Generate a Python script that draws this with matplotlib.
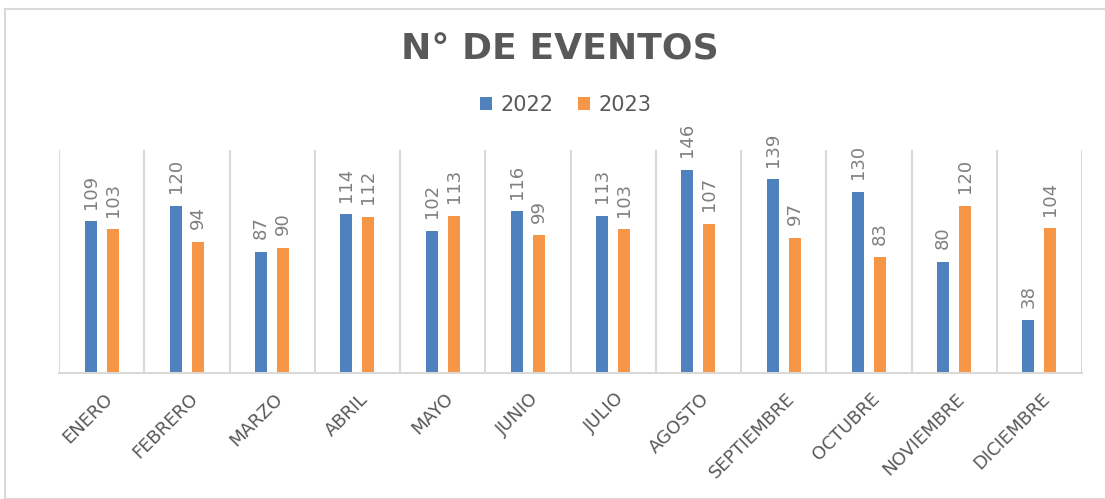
import matplotlib.pyplot as plt
import numpy as np
from matplotlib.patches import Rectangle

meses = ['ENERO', 'FEBRERO', 'MARZO', 'ABRIL', 'MAYO', 'JUNIO', 'JULIO',
         'AGOSTO', 'SEPTIEMBRE', 'OCTUBRE', 'NOVIEMBRE', 'DICIEMBRE']
eventos_2022 = [109, 120, 87, 114, 102, 116, 113, 146, 139, 130, 80, 38]
eventos_2023 = [103, 94, 90, 112, 113, 99, 103, 107, 97, 83, 120, 104]

azul = '#4F81BD'
naranja = '#F79646'
gris = '#595959'

fig = plt.figure(figsize=(11.05, 4.99), dpi=100)
# marco del grafico
fig.patches.append(Rectangle((5/1105, 0), 1105, 1 - 9/499, transform=fig.transFigure,
                             fill=False, edgecolor='#d9d9d9', lw=1.5))
ax = fig.add_axes([59/1105, 1 - 373/499, (1082 - 59)/1105, (373 - 150)/499])

x = np.arange(len(meses))
w = 0.14
b1 = ax.bar(x - 0.13, eventos_2022, w, color=azul, label='2022')
b2 = ax.bar(x + 0.13, eventos_2023, w, color=naranja, label='2023')

for barras in (b1, b2):
    for b in barras:
        ax.annotate(str(int(b.get_height())), (b.get_x() + b.get_width()/2, b.get_height()),
                    xytext=(0, 9), textcoords='offset points', rotation=90,
                    ha='center', va='bottom', fontsize=13, color='#7f7f7f')

ax.set_xlim(-0.5, len(meses) - 0.5)
ax.set_ylim(0, 160)
ax.set_yticks([])
ax.set_xticks(np.arange(len(meses) + 1) - 0.5, minor=False)
ax.set_xticklabels([])
ax.tick_params(axis='x', length=0)
ax.grid(axis='x', color='#d9d9d9', lw=1.5)
for s in ['top', 'right', 'left']:
    ax.spines[s].set_visible(False)
ax.spines['bottom'].set_color('#d9d9d9')
ax.spines['bottom'].set_linewidth(1.5)

for i, m in enumerate(meses):
    ax.text(i + 0.02, -12, m, rotation=45, rotation_mode='anchor', ha='right', va='top',
            fontsize=13, color=gris)

fig.text(0.507, 1 - 49/499, 'N° DE EVENTOS', ha='center', va='center', fontsize=26,
         fontweight='bold', color=gris)
fig.legend(loc='center', bbox_to_anchor=(0.512, 1 - 105/499), ncol=2, frameon=False,
           labelcolor=gris, handlelength=0.55, handleheight=0.55,
           handletextpad=0.4, columnspacing=1.2, prop={'size': 15})

fig.savefig('out.png', dpi=100)
